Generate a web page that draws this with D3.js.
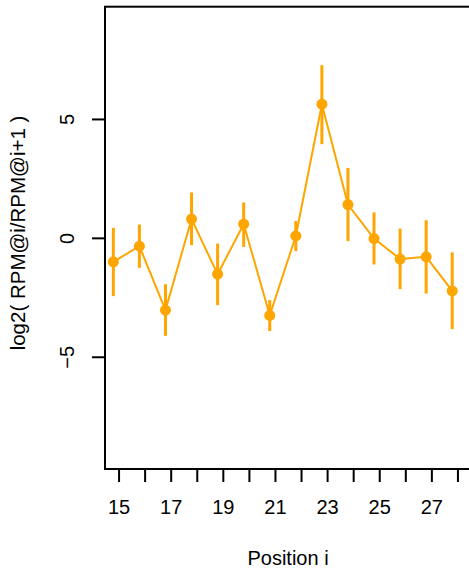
<!DOCTYPE html>
<html>
<head>
<meta charset="utf-8">
<script src="https://cdn.jsdelivr.net/npm/d3@7"></script>
<style>
html,body{margin:0;padding:0;background:#fff;}
svg{display:block;}
text{font-family:"Liberation Sans",Arial,Helvetica,sans-serif;fill:#000;}
</style>
</head>
<body>
<svg id="chart" width="469" height="573"></svg>
<script>
// Data
const positions = [15,16,17,18,19,20,21,22,23,24,25,26,27,28];
const values    = [-1.01,-0.35,-3.04,0.79,-1.53,0.58,-3.26,0.08,5.62,1.40,-0.03,-0.89,-0.80,-2.23];
const upper     = [0.42,0.56,-1.95,1.91,-0.24,1.49,-2.62,0.71,7.26,2.94,1.07,0.39,0.74,-0.61];
const lower     = [-2.45,-1.26,-4.12,-0.31,-2.83,-0.38,-3.92,-0.56,3.94,-0.14,-1.12,-2.16,-2.34,-3.84];
const xTicks = [15,16,17,18,19,20,21,22,23,24,25,26,27,28];
const xTickLabels = ["15","","17","","19","","21","","23","","25","","27",""];
const yTicks = [-5,0,5];
const dodge = -0.2;
const color = "#FFA500";

const svg = d3.select("#chart");
const L = 105, R = 471, T = 6.7, B = 469;
const x = d3.scaleLinear().domain([14.48, 28.52]).range([L, R]);
const y = d3.scaleLinear().domain([-9.72, 9.72]).range([B, T]);

const data = positions.map((p,i)=>({x:p+dodge, v:values[i], lo:lower[i], hi:upper[i]}));

// box
svg.append("rect").attr("x",L).attr("y",T).attr("width",R-L).attr("height",B-T)
  .attr("fill","none").attr("stroke","#000").attr("stroke-width",2);

// x axis
const xAxis = d3.axisBottom(x).tickValues(xTicks).tickSize(13).tickPadding(18)
  .tickFormat((d,i)=>xTickLabels[i]);
const gx = svg.append("g").attr("transform",`translate(0,${B})`).call(xAxis);
gx.select(".domain").remove();
gx.selectAll("line").attr("stroke","#000").attr("stroke-width",2);
gx.selectAll("text").attr("font-size",20).attr("font-family","Liberation Sans, Arial, sans-serif").attr("fill","#000");

// y axis
const yAxis = d3.axisLeft(y).tickValues(yTicks).tickSize(13).tickPadding(0)
  .tickFormat(d=>d<0?"\u2212"+Math.abs(d):String(d));
const gy = svg.append("g").attr("transform",`translate(${L},0)`).call(yAxis);
gy.select(".domain").remove();
gy.selectAll("line").attr("stroke","#000").attr("stroke-width",2);
gy.selectAll("text")
  .attr("font-size",20).attr("font-family","Liberation Sans, Arial, sans-serif").attr("fill","#000")
  .attr("text-anchor","middle").attr("dy",null).attr("x",null)
  .attr("transform",function(){return "translate(-38,0) rotate(-90)";})
  .attr("dominant-baseline","central");

// axis titles
svg.append("text").attr("x",288).attr("y",565).attr("text-anchor","middle")
  .attr("font-size",20).text("Position i");
svg.append("text").attr("transform",`translate(25,233) rotate(-90)`).attr("text-anchor","middle")
  .attr("font-size",20.5).text("log2( RPM@i/RPM@i+1 )");

// error bars
svg.append("g").selectAll("line").data(data).join("line")
  .attr("x1",d=>x(d.x)).attr("x2",d=>x(d.x))
  .attr("y1",d=>y(d.lo)).attr("y2",d=>y(d.hi))
  .attr("stroke",color).attr("stroke-width",3);

// line
svg.append("path").datum(data)
  .attr("d",d3.line().x(d=>x(d.x)).y(d=>y(d.v)))
  .attr("fill","none").attr("stroke",color).attr("stroke-width",2);

// points
svg.append("g").selectAll("circle").data(data).join("circle")
  .attr("cx",d=>x(d.x)).attr("cy",d=>y(d.v)).attr("r",5.5).attr("fill",color);
</script>
</body>
</html>
